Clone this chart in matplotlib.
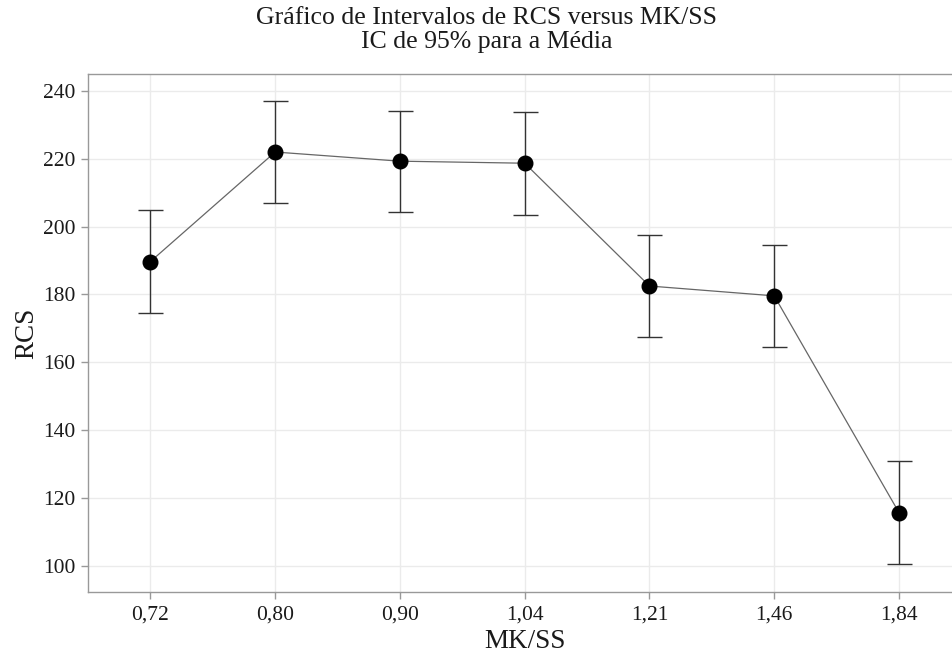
import matplotlib.pyplot as plt
import numpy as np

plt.rcParams['font.family'] = ['Liberation Serif', 'DejaVu Serif']

categories = ['0,72', '0,80', '0,90', '1,04', '1,21', '1,46', '1,84']
means = np.array([189.7, 222.0, 219.3, 218.7, 182.5, 179.6, 115.7])
upper = np.array([204.8, 237.1, 234.2, 233.7, 197.6, 194.6, 130.8])
lower = np.array([174.6, 206.9, 204.2, 203.5, 167.5, 164.6, 100.7])

fig = plt.figure(figsize=(9.52, 6.55), dpi=100)
ax = fig.add_axes([88 / 952, 1 - 592 / 655, 873.4 / 952, 518 / 655])

x = np.arange(len(categories))
ax.grid(True, color='#ebebeb', linewidth=1.0, zorder=0)
ax.set_axisbelow(True)

ax.plot(x, means, color='#666666', linewidth=0.9, zorder=2)
ax.errorbar(x, means, yerr=[means - lower, upper - means], fmt='none',
            ecolor='#333333', elinewidth=1.0, capsize=9, capthick=1.0, zorder=3)
ax.plot(x, means, 'o', color='black', markersize=10.5, zorder=4)

ax.set_xlim(-0.5, 6.5)
ax.set_ylim(92.3, 245.0)
ax.set_xticks(x)
ax.set_xticklabels(categories)
ax.set_yticks(np.arange(100, 241, 20))

for s in ax.spines.values():
    s.set_color('#999999')
    s.set_linewidth(1.0)

ax.tick_params(axis='both', colors='#999999', labelcolor='#1a1a1a',
               labelsize=15.5, length=5, width=1)
ax.tick_params(axis='x', pad=5)
ax.tick_params(axis='y', pad=4)

ax.set_xlabel('MK/SS', fontsize=19.5, color='#1a1a1a', labelpad=3)
ax.set_ylabel('RCS', fontsize=19.5, color='#1a1a1a', labelpad=3)

fig.text(487 / 952, 1 - 18 / 655, 'Gráfico de Intervalos de RCS versus MK/SS',
         ha='center', va='center', fontsize=18.5, color='#1a1a1a')
fig.text(487 / 952, 1 - 42 / 655, 'IC de 95% para a Média',
         ha='center', va='center', fontsize=18.5, color='#1a1a1a')

fig.savefig('out.png', dpi=100)
plt.close()
